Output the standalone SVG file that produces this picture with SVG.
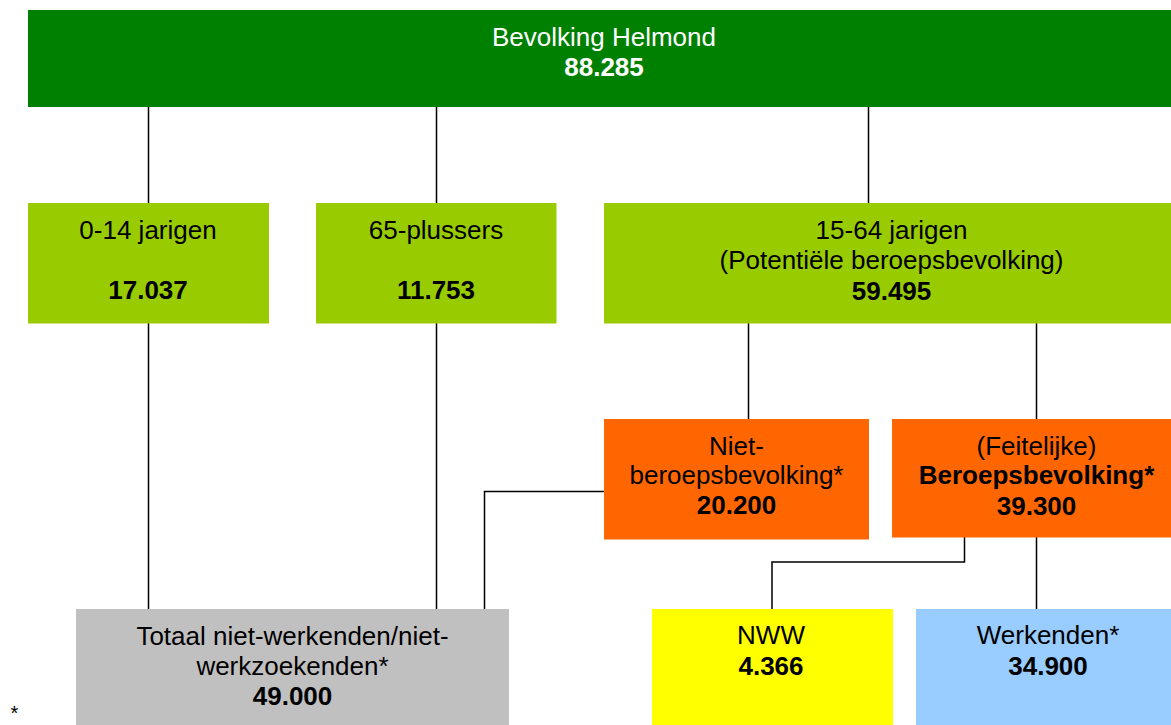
<svg xmlns="http://www.w3.org/2000/svg" width="1171" height="725" viewBox="0 0 1171 725">
<style>
text{font-family:"Liberation Sans",Arial,Helvetica,sans-serif;font-size:26px;fill:#000;text-anchor:middle}
.b{font-weight:bold}
.w{fill:#fff}
.c line,.c polyline{stroke:#000;stroke-width:1.5;fill:none}
</style>
<rect width="1171" height="725" fill="#fff"/>
<g class="c" id="connectors">
<line x1="148.5" y1="107" x2="148.5" y2="203"/>
<line x1="436.5" y1="107" x2="436.5" y2="203"/>
<line x1="868.5" y1="107" x2="868.5" y2="203"/>
<line x1="148.5" y1="323" x2="148.5" y2="609"/>
<line x1="436.5" y1="323" x2="436.5" y2="609"/>
<line x1="748.5" y1="323" x2="748.5" y2="419"/>
<line x1="1036.5" y1="323" x2="1036.5" y2="419"/>
<polyline points="604,491.5 484.5,491.5 484.5,609"/>
<polyline points="964.5,537 964.5,562 772,562 772,609"/>
<line x1="1036.5" y1="537" x2="1036.5" y2="609"/>
</g>
<g id="bevolking">
<rect x="28" y="10" width="1143" height="97" fill="#008000"/>
<text class="w" x="604" y="45.5">Bevolking Helmond</text>
<text class="w b" x="604" y="76">88.285</text>
</g>
<g id="jong">
<rect x="28" y="203" width="241" height="120.5" fill="#99CC00"/>
<text x="148" y="238.5">0-14 jarigen</text>
<text class="b" x="148" y="299">17.037</text>
</g>
<g id="oud">
<rect x="316" y="203" width="240.5" height="120.5" fill="#99CC00"/>
<text x="436" y="238.5">65-plussers</text>
<text class="b" x="436" y="299">11.753</text>
</g>
<g id="potentieel">
<rect x="604" y="203" width="567" height="120.5" fill="#99CC00"/>
<text x="891.5" y="238.5">15-64 jarigen</text>
<text x="891.5" y="269">(Potentiële beroepsbevolking)</text>
<text class="b" x="891.5" y="299.5">59.495</text>
</g>
<g id="niet-beroeps">
<rect x="604" y="419" width="265" height="120.5" fill="#FF6600"/>
<text x="736.5" y="455">Niet-</text>
<text x="736.5" y="483.5">beroepsbevolking*</text>
<text class="b" x="736.5" y="514">20.200</text>
</g>
<g id="beroeps">
<rect x="892" y="419" width="279" height="118.5" fill="#FF6600"/>
<text x="1036.5" y="455">(Feitelijke)</text>
<text class="b" x="1036.5" y="483.5">Beroepsbevolking*</text>
<text class="b" x="1036.5" y="514.5">39.300</text>
</g>
<g id="totaal">
<rect x="76" y="609" width="433" height="116" fill="#C0C0C0"/>
<text x="292.5" y="645">Totaal niet-werkenden/niet-</text>
<text x="292.5" y="675">werkzoekenden*</text>
<text class="b" x="292.5" y="704.5">49.000</text>
</g>
<g id="nww">
<rect x="652" y="609" width="241" height="116" fill="#FFFF00"/>
<text x="771" y="643.5">NWW</text>
<text class="b" x="771" y="674.5">4.366</text>
</g>
<g id="werkenden">
<rect x="916" y="609" width="255" height="116" fill="#99CCFF"/>
<text x="1048" y="643.5">Werkenden*</text>
<text class="b" x="1048" y="674.5">34.900</text>
</g>
<text x="14.5" y="720" style="font-size:20px">*</text>
</svg>
